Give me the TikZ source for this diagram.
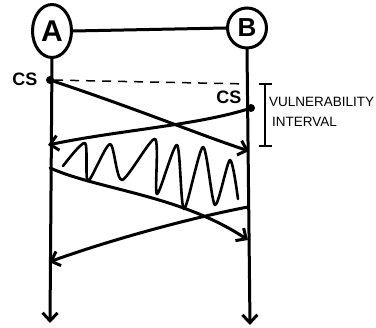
\documentclass[tikz,border=0pt]{standalone}
\usepackage{fontspec}
\setmainfont{Liberation Sans}
\usetikzlibrary{shapes.geometric,arrows.meta}
\begin{document}
\begin{tikzpicture}[x=1pt,y=-1pt,
  ink/.style={line width=3pt,line cap=round,line join=round},
  msg/.style={ink,-{Straight Barb[length=8pt,width=15pt]}},
  host/.style={ellipse,draw,line width=3pt,inner sep=0pt,font=\bfseries\fontsize{30}{30}\selectfont},
  dotmark/.style={circle,fill,inner sep=0pt,minimum size=8pt},
  cslabel/.style={font=\bfseries\fontsize{18}{18}\selectfont},
  note/.style={font=\fontsize{13.5}{14}\selectfont,anchor=west,inner sep=0pt}]
\useasboundingbox (0,0) rectangle (376,328);
\fill[white] (0,0) rectangle (376,328);

\node[host,minimum width=39pt,minimum height=53pt] (A) at (52,31) {A};
\node[host,minimum width=39pt,minimum height=40pt,font=\bfseries\fontsize{26}{26}\selectfont] (B) at (247,28) {B};
\draw[ink] (A.east) -- (B.west);

\coordinate (Aend) at (50,323);
\coordinate (Bend) at (250,325);
\draw[msg] (A.south) -- (Aend);
\draw[msg] (B.south) -- (Bend);

\node[dotmark] (dA) at (50,80) {};
\node[dotmark] (dB) at (251,108) {};
\node[cslabel] (csA) at (25,79) {CS};
\node[cslabel] (csB) at (229,97) {CS};

\coordinate (dashEnd) at (249,84);
\draw[line width=1.5pt,dash pattern=on 9pt off 7pt] (dA) -- (dashEnd);

% first exchange
\coordinate (a1) at (249,151);
\coordinate (b1) at (48,145);
\draw[msg] (dA.center) .. controls (140,110) and (200,135) .. (a1);
\draw[msg] (dB.center) .. controls (200,125) and (120,130) .. (b1);

% jamming zigzag
\draw[ink,line width=2.6pt] plot[smooth,tension=0.45] coordinates {
 (63,166) (85,143) (88,181) (110,144) (122,180) (155,139) (157,194)
 (177,145) (184,209) (203,147) (215,205) (230,160) (238,199)};

% second exchange
\coordinate (sA) at (50,168);
\coordinate (a2) at (248,240);
\coordinate (sB) at (248,207);
\coordinate (b2) at (49,262);
\draw[msg] (sA) .. controls (100,190) and (180,195) .. (a2);
\draw[msg] (sB) .. controls (190,218) and (110,240) .. (b2);

% vulnerability interval bracket
\coordinate (vt) at (265,84);
\coordinate (vb) at (265,146);
\draw[line width=1.3pt] (vt) -- (vb);
\draw[line width=1.3pt] ([xshift=-6pt]vt) -- ([xshift=7pt]vt);
\draw[line width=1.3pt] ([xshift=-6pt]vb) -- ([xshift=7pt]vb);
\node[note] (vtxt) at (269,102) {VULNERABILITY};
\node[note] (itxt) at (272,122) {INTERVAL};
\end{tikzpicture}
\end{document}
